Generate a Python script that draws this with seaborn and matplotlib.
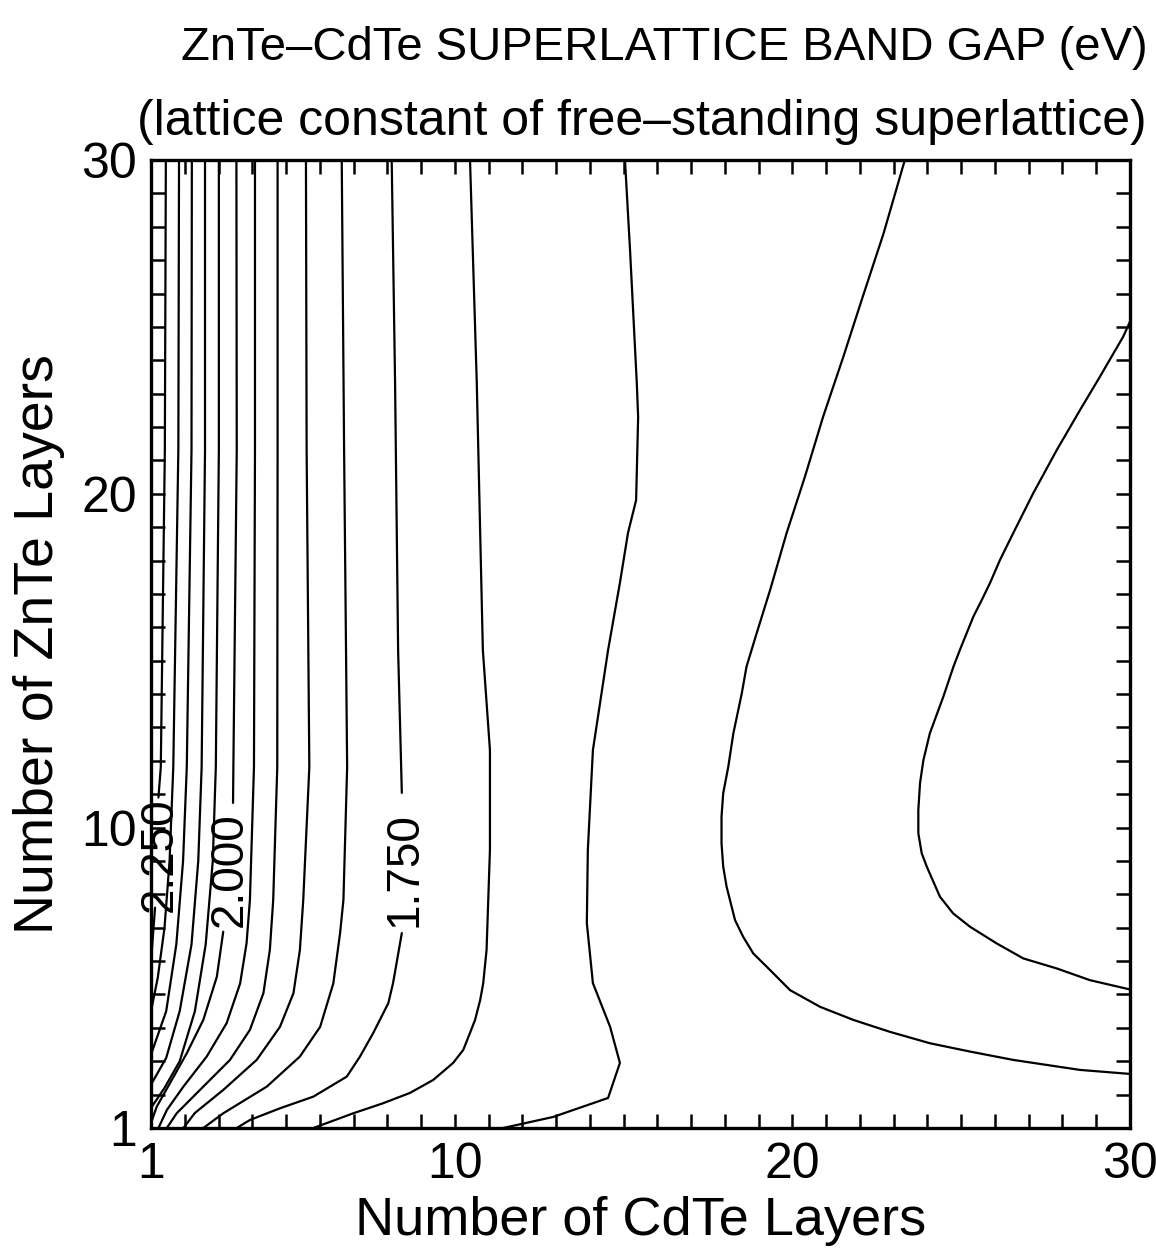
import numpy as np
import pandas as pd
import matplotlib
matplotlib.use("Agg")
import matplotlib.pyplot as plt
import seaborn as sns

# ---------------- data ----------------
title = "ZnTe\u2013CdTe SUPERLATTICE BAND GAP (eV)"
subtitle = "(lattice constant of free\u2013standing superlattice)"
xlabel = "Number of CdTe Layers"
ylabel = "Number of ZnTe Layers"
tick_values = [1, 10, 20, 30]
tick_labels = ["1", "10", "20", "30"]

# contour lines: (CdTe layers, ZnTe layers) points, one pair of arrays per level
c225a_x = [1.44, 1.41, 1.29, 1.22]
c225a_y = [30.0, 21.31, 11.81, 10.9]
c225b_x = [1.12, 1.0]
c225b_y = [7.6, 6.0]
c220_x = [1.83, 1.81, 1.66, 1.55, 1.40, 1.20, 1.0]
c220_y = [30.0, 21.31, 11.81, 9.0, 7.0, 5.5, 4.5]
c215_x = [2.21, 2.20, 2.06, 1.95, 1.75, 1.45, 1.0]
c215_y = [30.0, 21.31, 11.81, 9.0, 6.5, 4.5, 3.2]
c210_x = [2.60, 2.60, 2.50, 2.40, 2.20, 1.85, 1.45, 1.0]
c210_y = [30.0, 21.31, 11.81, 9.0, 6.5, 4.5, 3.1, 2.3]
c205_x = [3.01, 3.01, 2.92, 2.83, 2.62, 2.30, 1.85, 1.40, 1.0]
c205_y = [30.0, 21.31, 11.81, 9.0, 6.5, 4.5, 3.0, 2.2, 1.6]
c200a_x = [3.53, 3.54, 3.44, 3.43]
c200a_y = [30.0, 21.31, 11.81, 10.74]
c200b_x = [3.14, 2.95, 2.55, 2.06, 1.56, 1.17, 1.0]
c200b_y = [6.88, 5.53, 4.24, 3.24, 2.34, 1.64, 1.15]
c195_x = [4.08, 4.08, 4.05, 3.93, 3.83, 3.64, 3.24, 2.65, 1.96, 1.47, 1.22]
c195_y = [30.0, 21.31, 11.81, 7.83, 6.53, 5.33, 4.14, 3.14, 2.24, 1.54, 1.0]
c190_x = [4.75, 4.75, 4.74, 4.62, 4.52, 4.33, 3.93, 3.34, 2.45, 1.76, 1.47]
c190_y = [30.0, 21.31, 11.81, 7.83, 6.33, 5.04, 3.94, 3.04, 2.14, 1.44, 1.0]
c185_x = [5.59, 5.61, 5.69, 5.51, 5.41, 5.22, 4.82, 4.13, 3.14, 2.30, 1.96]
c185_y = [30.0, 21.31, 11.81, 7.83, 6.33, 5.04, 4.03, 3.04, 2.14, 1.45, 1.0]
c180_x = [6.65, 6.72, 6.81, 6.70, 6.60, 6.40, 6.01, 5.41, 4.43, 3.14, 2.55]
c180_y = [30.0, 21.31, 11.81, 7.83, 6.83, 5.33, 4.03, 3.14, 2.24, 1.44, 1.0]
c175a_x = [8.13, 8.23, 8.32, 8.43]
c175a_y = [30.0, 23.32, 15.32, 11.04]
c175b_x = [8.43, 8.17, 8.03, 7.58, 7.19, 6.80, 5.81, 4.82, 3.93, 3.54]
c175b_y = [6.84, 5.34, 4.74, 3.84, 3.14, 2.54, 1.94, 1.59, 1.24, 1.0]
c170_x = [10.45, 10.65, 10.83, 11.04, 11.04, 10.99, 10.94, 10.84, 10.75, 10.60, 10.45,
          10.25, 9.95, 9.36, 8.67, 7.87, 6.99, 5.81]
c170_y = [30.0, 23.32, 15.32, 12.32, 9.33, 7.83, 6.33, 5.33, 4.83, 4.24, 3.85,
          3.34, 2.95, 2.44, 2.05, 1.74, 1.44, 1.0]
c165_x = [15.04, 15.19, 15.39, 15.43, 15.37, 15.13, 14.89, 14.54, 14.09, 13.94, 13.91,
          14.09, 14.60, 14.89, 14.54, 12.91, 11.43]
c165_y = [30.0, 27.30, 23.32, 22.30, 19.81, 18.83, 17.33, 15.32, 12.32, 9.33, 7.14,
          5.34, 4.03, 2.95, 1.90, 1.33, 1.0]
c160_x = [23.33, 22.70, 22.05, 21.51, 20.91, 20.37, 19.83, 19.34, 18.94, 18.64, 18.50,
          18.25, 18.10, 17.95, 17.90, 17.90, 17.95, 18.05, 18.30, 18.54, 18.84, 19.34,
          19.93, 20.82, 21.80, 22.89, 24.07, 25.26, 26.54, 28.52, 30.0]
c160_y = [30.0, 27.80, 25.80, 24.11, 22.31, 20.51, 18.83, 17.12, 15.82, 14.82, 14.02,
          12.82, 11.82, 11.03, 10.33, 9.53, 8.83, 8.23, 7.23, 6.73, 6.23, 5.73,
          5.13, 4.63, 4.24, 3.88, 3.54, 3.29, 3.04, 2.74, 2.62]
c155_x = [30.0, 29.80, 29.11, 28.52, 27.83, 27.13, 26.54, 26.15, 25.85, 25.61, 25.36,
          25.16, 24.96, 24.77, 24.47, 24.07, 23.88, 23.78, 23.73, 23.73, 23.83, 23.98,
          24.37, 24.76, 25.26, 26.05, 26.84, 27.83, 28.81, 30.0]
c155_y = [25.16, 24.71, 23.51, 22.51, 21.31, 20.01, 18.82, 18.02, 17.32, 16.82, 16.32,
          15.82, 15.32, 14.82, 13.92, 12.82, 12.02, 11.33, 10.53, 9.83, 9.23, 8.83,
          7.93, 7.43, 7.03, 6.53, 6.08, 5.78, 5.43, 5.15]

label_text = ["2.250", "2.000", "1.750"]
label_x = [1.27, 3.34, 8.52]
label_y = [9.2, 8.75, 8.75]

# ---------------- assemble ----------------
segments = {
    "2.25a": (c225a_x, c225a_y), "2.25b": (c225b_x, c225b_y),
    "2.20": (c220_x, c220_y), "2.15": (c215_x, c215_y),
    "2.10": (c210_x, c210_y), "2.05": (c205_x, c205_y),
    "2.00a": (c200a_x, c200a_y), "2.00b": (c200b_x, c200b_y),
    "1.95": (c195_x, c195_y), "1.90": (c190_x, c190_y),
    "1.85": (c185_x, c185_y), "1.80": (c180_x, c180_y),
    "1.75a": (c175a_x, c175a_y), "1.75b": (c175b_x, c175b_y),
    "1.70": (c170_x, c170_y), "1.65": (c165_x, c165_y),
    "1.60": (c160_x, c160_y), "1.55": (c155_x, c155_y),
}
rows = []
for name, (xs, ys) in segments.items():
    for i, (xv, yv) in enumerate(zip(xs, ys)):
        rows.append({"seg": name, "order": i, "cdte": xv, "znte": yv})
df = pd.DataFrame(rows)

# ---------------- style ----------------
sns.set_style("white")
plt.rcParams["font.family"] = ["Liberation Sans", "DejaVu Sans"]
plt.rcParams["text.color"] = "black"
plt.rcParams["axes.labelcolor"] = "black"
plt.rcParams["xtick.color"] = "black"
plt.rcParams["ytick.color"] = "black"

fig = plt.figure(figsize=(11.56, 12.6), dpi=100)
ax = fig.add_axes([151 / 1156, 1 - 1128 / 1260, (1130 - 151) / 1156, (1128 - 160) / 1260])

sns.lineplot(data=df, x="cdte", y="znte", units="seg", estimator=None, sort=False,
             color="black", linewidth=1.6, legend=False, ax=ax)

for t, xv, yv in zip(label_text, label_x, label_y):
    ax.text(xv, yv, t, rotation=90, ha="center", va="center", fontsize=33,
            color="black", clip_on=False)

ax.set_xlim(1, 30)
ax.set_ylim(1, 30)
ax.set_xticks(tick_values)
ax.set_xticklabels(tick_labels)
ax.set_yticks(tick_values)
ax.set_yticklabels(tick_labels)
minor = [v for v in range(1, 31) if v not in tick_values]
ax.set_xticks(minor, minor=True)
ax.set_yticks(minor, minor=True)
for which in ("major", "minor"):
    ax.tick_params(axis="both", which=which, direction="in", length=10, width=1.8,
                   top=True, right=True, bottom=True, left=True, color="black")
ax.tick_params(axis="both", which="major", labelsize=36, pad=10, labelcolor="black")
for s in ax.spines.values():
    s.set_linewidth(2.4)
    s.set_color("black")
    s.set_visible(True)

ax.set_xlabel(xlabel, fontsize=39, labelpad=6, color="black")
ax.set_ylabel(ylabel, fontsize=40, labelpad=12, color="black")

fig.text(664 / 1156, 1 - 48 / 1260, title, ha="center", va="center", fontsize=34,
         color="black")
fig.text(642 / 1156, 1 - 122 / 1260, subtitle, ha="center", va="center", fontsize=36,
         color="black")

fig.savefig("out.png", dpi=100, facecolor="white")
